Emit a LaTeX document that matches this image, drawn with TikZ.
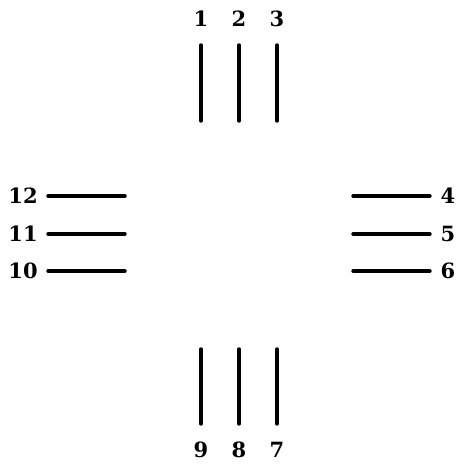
\documentclass[tikz,border=0pt]{standalone}
\usepackage{fontspec}
\setmainfont{DejaVu Serif}[BoldFont={DejaVu Serif Bold}]
\begin{document}
\begin{tikzpicture}[x=1pt,y=-1pt,
  lab/.style={font=\fontsize{21}{21}\selectfont\bfseries, inner sep=0pt, text=black},
  stub/.style={line width=3.4pt, black, line cap=round}]
\useasboundingbox (0,0) rectangle (459,464);
% top
\foreach \i/\x in {1/201,2/239,3/277}{
  \node[lab] (t\i) at (\x,19) {\i};
  \coordinate (ta\i) at (\x,45);
  \coordinate (tb\i) at (\x,121);
  \draw[stub] (ta\i) -- (tb\i);
}
% bottom
\foreach \i/\x in {9/201,8/239,7/277}{
  \node[lab] (b\i) at (\x,450) {\i};
  \coordinate (ba\i) at (\x,349);
  \coordinate (bb\i) at (\x,424);
  \draw[stub] (ba\i) -- (bb\i);
}
% left
\foreach \i/\y in {12/196,11/234,10/271}{
  \node[lab] (l\i) at (23,\y) {\i};
  \coordinate (la\i) at (48,\y);
  \coordinate (lb\i) at (125,\y);
  \draw[stub] (la\i) -- (lb\i);
}
% right
\foreach \i/\y in {4/196,5/234,6/271}{
  \node[lab] (r\i) at (448,\y) {\i};
  \coordinate (ra\i) at (353,\y);
  \coordinate (rb\i) at (430,\y);
  \draw[stub] (ra\i) -- (rb\i);
}
\end{tikzpicture}
\end{document}
